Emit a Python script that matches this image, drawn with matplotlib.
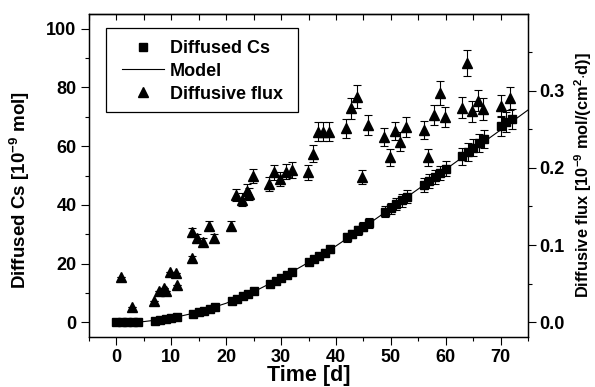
import matplotlib
matplotlib.use("Agg")
import matplotlib.pyplot as plt
from matplotlib.lines import Line2D
from matplotlib.patches import Rectangle
from matplotlib.ticker import MultipleLocator, FormatStrFormatter

plt.rcParams['font.family'] = ['Liberation Sans', 'DejaVu Sans']
plt.rcParams['font.weight'] = 'bold'
plt.rcParams['mathtext.fontset'] = 'custom'
plt.rcParams['mathtext.rm'] = 'Liberation Sans:bold'
plt.rcParams['mathtext.bf'] = 'Liberation Sans:bold'

# Cumulative diffused Cs (10^-9 mol) vs time (d)
t_cs = [0, 1, 2, 3, 4, 7, 8, 9, 10, 11, 14, 15, 16, 17, 18,
        21, 22, 23, 24, 25, 28, 29, 30, 31, 32, 35, 36, 37, 38, 39,
        42, 43, 44, 45, 46, 49, 50, 51, 52, 53, 56, 57, 58, 59, 60,
        63, 64, 65, 66, 67, 70, 71, 72]
cs = [0.0, 0.05, 0.1, 0.15, 0.2, 0.55, 0.8, 1.05, 1.35, 1.7,
      2.9, 3.4, 3.9, 4.5, 5.1, 7.3, 8.0, 8.8, 9.6, 10.5,
      13.2, 14.1, 15.1, 16.1, 17.2, 20.4, 21.5, 22.6, 23.7, 24.8,
      28.9, 30.1, 31.3, 32.6, 33.9, 37.6, 38.9, 40.2, 41.5, 42.8,
      46.8, 48.1, 49.5, 50.9, 52.3, 56.5, 58.0, 59.5, 61.0, 62.4,
      66.8, 68.1, 69.3]
cs_err = [0.0, 0.0, 0.0, 0.0, 0.0, 0.05, 0.05, 0.05, 0.1, 0.1,
          0.15, 0.2, 0.2, 0.2, 0.25, 0.4, 0.4, 0.45, 0.5, 0.5,
          0.7, 0.7, 0.8, 0.8, 0.9, 1.0, 1.1, 1.1, 1.2, 1.2,
          1.4, 1.5, 1.6, 1.6, 1.7, 1.9, 1.9, 2.0, 2.1, 2.1,
          2.3, 2.4, 2.5, 2.5, 2.6, 2.8, 2.9, 3.0, 3.0, 3.1,
          3.3, 3.4, 3.5]

# Model curve
t_model = [0, 5, 10, 15, 20, 25, 30, 35, 40, 45, 50, 55, 60, 65, 70, 75]
model = [0.0, 0.25, 1.4, 3.5, 6.5, 10.4, 15.1, 20.4, 26.0, 32.3,
         38.8, 45.4, 52.1, 58.8, 65.5, 72.3]

# Diffusive flux (10^-9 mol/(cm^2 d))
t_flux = [0.9, 2.85, 6.9, 7.7, 8.7, 9.0, 9.7, 10.8, 11.0, 13.8,
          13.8, 14.6, 15.8, 16.9, 17.8, 20.9, 21.8, 22.8, 23.7, 24.1,
          24.8, 27.8, 28.8, 29.8, 30.9, 32.0, 34.9, 35.8, 36.7, 37.7,
          38.8, 41.9, 42.8, 43.8, 44.8, 45.8, 48.8, 49.8, 50.8, 51.7,
          52.8, 56.0, 56.8, 57.8, 58.9, 59.8, 62.9, 63.9, 64.8, 65.8,
          66.8, 70.0, 71.8]
flux = [0.059, 0.0195, 0.027, 0.041, 0.045, 0.041, 0.065, 0.064, 0.048, 0.083,
        0.117, 0.109, 0.104, 0.125, 0.109, 0.125, 0.165, 0.159, 0.170, 0.166,
        0.190, 0.179, 0.194, 0.185, 0.195, 0.197, 0.194, 0.218, 0.247, 0.247,
        0.247, 0.251, 0.277, 0.292, 0.188, 0.256, 0.240, 0.214, 0.248, 0.234,
        0.253, 0.249, 0.214, 0.268, 0.297, 0.266, 0.278, 0.336, 0.273, 0.287,
        0.276, 0.280, 0.290]
flux_err = [0.0, 0.0, 0.0, 0.0, 0.0, 0.0, 0.0, 0.0, 0.0, 0.003,
            0.005, 0.005, 0.005, 0.006, 0.005, 0.006, 0.008, 0.008, 0.009, 0.008,
            0.009, 0.009, 0.010, 0.009, 0.010, 0.010, 0.010, 0.011, 0.012, 0.012,
            0.012, 0.012, 0.014, 0.015, 0.009, 0.013, 0.012, 0.011, 0.012, 0.012,
            0.013, 0.012, 0.011, 0.013, 0.015, 0.013, 0.014, 0.017, 0.014, 0.014,
            0.014, 0.014, 0.015]

fig = plt.figure(figsize=(5.95, 3.87), dpi=100)
ax = fig.add_axes([0.1496, 0.1292, 0.7378, 0.8346])
ax2 = ax.twinx()

ax.plot(t_model, model, color='black', lw=0.8, zorder=2)
ax.errorbar(t_cs, cs, yerr=cs_err, fmt='s', color='black', ms=5.8,
            elinewidth=0.8, capsize=2.6, capthick=0.8, zorder=3)
ax2.errorbar(t_flux, flux, yerr=flux_err, fmt='^', color='black', ms=6.8,
             elinewidth=0.8, capsize=2.6, capthick=0.8, zorder=3)

ax.set_xlim(-5, 75)
ax.set_ylim(-5, 105)
ax2.set_ylim(-5 / 262.5, 104.8 / 262.5)

ax.xaxis.set_major_locator(MultipleLocator(10))
ax.xaxis.set_minor_locator(MultipleLocator(5))
ax.yaxis.set_major_locator(MultipleLocator(20))
ax.yaxis.set_minor_locator(MultipleLocator(10))
ax2.yaxis.set_major_locator(MultipleLocator(0.1))
ax2.yaxis.set_minor_locator(MultipleLocator(0.05))
ax2.yaxis.set_major_formatter(FormatStrFormatter('%.1f'))

for a in (ax, ax2):
    for sp in a.spines.values():
        sp.set_linewidth(0.9)
    a.tick_params(which='major', length=5.5, width=0.8, labelsize=13)
    a.tick_params(which='minor', length=3, width=0.8)
ax.tick_params(axis='both', which='both', direction='out')
ax2.tick_params(axis='y', which='both', direction='out', pad=2.5)

top = ax.secondary_xaxis('top')
top.xaxis.set_major_locator(MultipleLocator(5))
top.tick_params(direction='in', length=4, width=0.8, labeltop=False)
top.spines['top'].set_linewidth(0.9)

ax.set_xlabel('Time [d]', fontsize=15.5, fontweight='bold')
ax.set_ylabel(r'Diffused Cs [10$^{\mathbf{-9}}$ mol]', fontsize=13.5, fontweight='bold')
ax2.set_ylabel(r'Diffusive flux [10$^{\mathbf{-9}}$ mol/(cm$^{\mathbf{2}}$$\cdot$d)]',
               fontsize=11.8, fontweight='bold')
ax.xaxis.set_label_coords(0.5, -0.088)
ax.yaxis.set_label_coords(-0.13, 0.455)
ax2.yaxis.set_label_coords(1.1, 0.5)

handles = [
    Line2D([], [], marker='s', color='black', ls='none', ms=5.8),
    Line2D([], [], color='black', lw=0.8),
    Line2D([], [], marker='^', color='black', ls='none', ms=6.8),
]
labels = ['Diffused Cs', 'Model', 'Diffusive flux']
leg = ax2.legend(handles, labels, loc='upper left', bbox_to_anchor=(0.0752, 0.92),
                 borderaxespad=0, borderpad=0, frameon=False,
                 prop={'size': 13, 'weight': 'bold'}, handlelength=2.3,
                 handletextpad=0.33, labelspacing=0.33)
ax2.add_patch(Rectangle((0.0387, 0.6966), 0.4374, 0.26, transform=ax2.transAxes,
                        fill=False, edgecolor='black', lw=0.9, zorder=5))

fig.savefig('out.png', dpi=100)
